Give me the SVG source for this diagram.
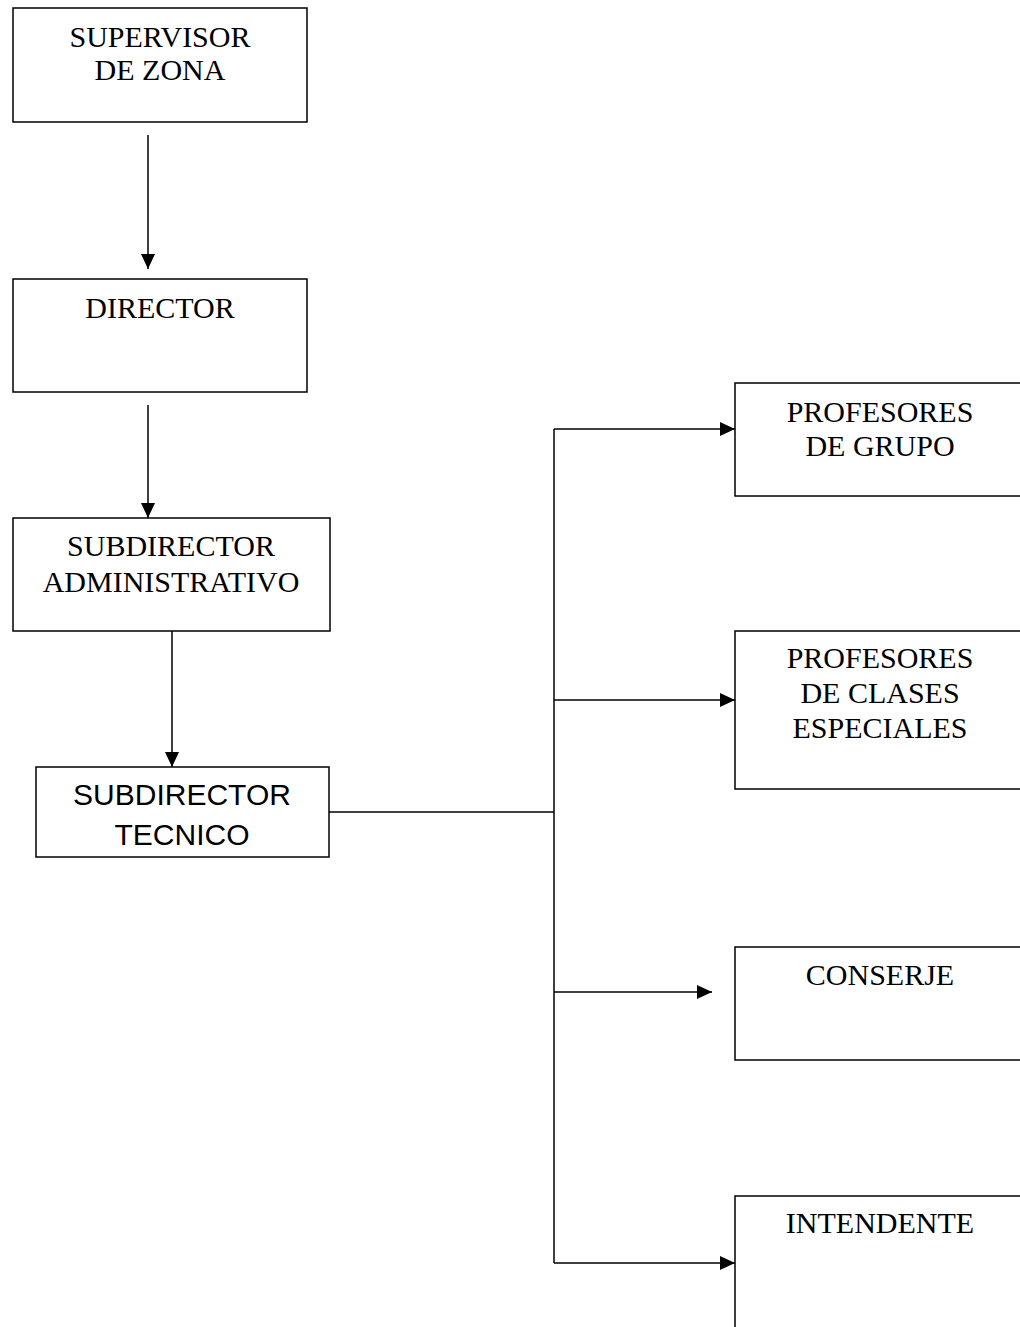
<svg xmlns="http://www.w3.org/2000/svg" width="1020" height="1327" viewBox="0 0 1020 1327">
<style>
.box{fill:#fff;stroke:#000;stroke-width:1.5}
.t{font-family:"Liberation Serif","Times New Roman",serif;font-size:30px;fill:#000;text-anchor:middle}
.s{font-family:"Liberation Sans",Arial,sans-serif;font-size:30px;fill:#000;text-anchor:middle}
.c{fill:none;stroke:#000;stroke-width:1.5}
</style>
<defs>
<marker id="ah" markerUnits="userSpaceOnUse" markerWidth="16" markerHeight="14" refX="15" refY="7" orient="auto">
<path d="M0,0 L15,7 L0,14 Z" fill="#000"/>
</marker>
</defs>
<rect width="1020" height="1327" fill="#fff"/>
<g id="connectors">
<line class="c" x1="148" y1="135" x2="148" y2="269" marker-end="url(#ah)"/>
<line class="c" x1="148" y1="405" x2="148" y2="518" marker-end="url(#ah)"/>
<line class="c" x1="172" y1="631" x2="172" y2="767" marker-end="url(#ah)"/>
<line class="c" x1="329" y1="812" x2="554" y2="812"/>
<line class="c" x1="554" y1="429" x2="554" y2="1263"/>
<line class="c" x1="554" y1="429" x2="735" y2="429" marker-end="url(#ah)"/>
<line class="c" x1="554" y1="700" x2="735" y2="700" marker-end="url(#ah)"/>
<line class="c" x1="554" y1="992" x2="712" y2="992" marker-end="url(#ah)"/>
<line class="c" x1="554" y1="1263" x2="735" y2="1263" marker-end="url(#ah)"/>
</g>
<g id="supervisor">
<rect class="box" x="13" y="8" width="294" height="114"/>
<text class="t" x="160" y="47">SUPERVISOR</text>
<text class="t" x="160" y="80">DE ZONA</text>
</g>
<g id="director">
<rect class="box" x="13" y="279" width="294" height="113"/>
<text class="t" x="160" y="318">DIRECTOR</text>
</g>
<g id="subdirector-administrativo">
<rect class="box" x="13" y="518" width="317" height="113"/>
<text class="t" x="171" y="556">SUBDIRECTOR</text>
<text class="t" x="171" y="592">ADMINISTRATIVO</text>
</g>
<g id="subdirector-tecnico">
<rect class="box" x="36" y="767" width="293" height="90"/>
<text class="s" x="182" y="805">SUBDIRECTOR</text>
<text class="s" x="182" y="845">TECNICO</text>
</g>
<g id="profesores-grupo">
<rect class="box" x="735" y="383" width="300" height="113"/>
<text class="t" x="880" y="422">PROFESORES</text>
<text class="t" x="880" y="456">DE GRUPO</text>
</g>
<g id="profesores-clases">
<rect class="box" x="735" y="631" width="300" height="158"/>
<text class="t" x="880" y="668">PROFESORES</text>
<text class="t" x="880" y="703">DE CLASES</text>
<text class="t" x="880" y="738">ESPECIALES</text>
</g>
<g id="conserje">
<rect class="box" x="735" y="947" width="300" height="113"/>
<text class="t" x="880" y="985">CONSERJE</text>
</g>
<g id="intendente">
<rect class="box" x="735" y="1196" width="300" height="160"/>
<text class="t" x="880" y="1233">INTENDENTE</text>
</g>
</svg>
